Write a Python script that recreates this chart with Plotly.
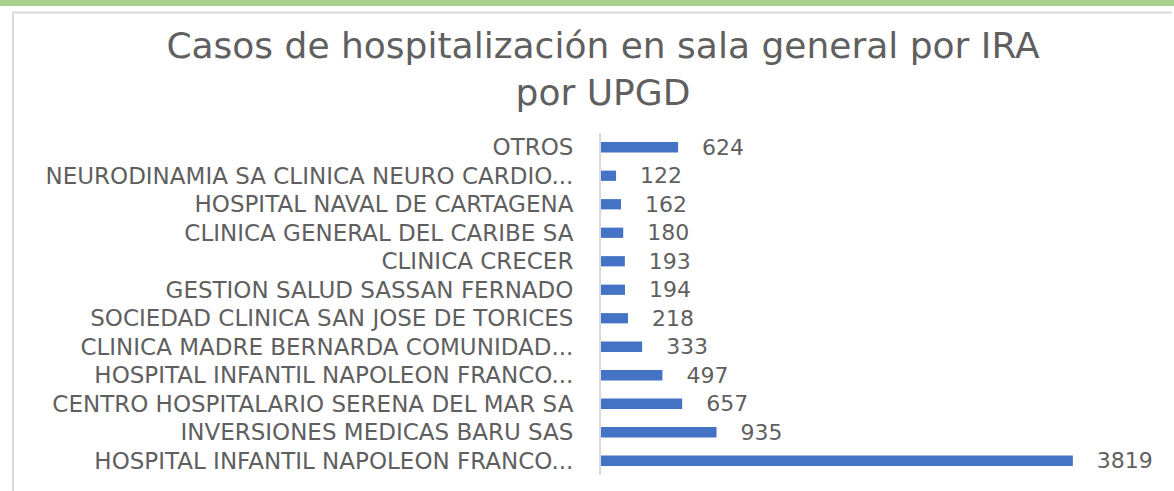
import plotly.graph_objects as go

# Data (bottom to top)
labels = [
    "HOSPITAL INFANTIL NAPOLEON FRANCO...",
    "INVERSIONES MEDICAS BARU SAS",
    "CENTRO HOSPITALARIO SERENA DEL MAR SA",
    "HOSPITAL INFANTIL NAPOLEON FRANCO...",
    "CLINICA MADRE BERNARDA COMUNIDAD...",
    "SOCIEDAD CLINICA SAN JOSE DE TORICES",
    "GESTION SALUD SASSAN FERNADO",
    "CLINICA CRECER",
    "CLINICA GENERAL DEL CARIBE SA",
    "HOSPITAL NAVAL DE CARTAGENA",
    "NEURODINAMIA SA CLINICA NEURO CARDIO...",
    "OTROS",
]
values = [3819, 935, 657, 497, 333, 218, 194, 193, 180, 162, 122, 624]
positions = list(range(len(labels)))

W, H = 1174, 491
L, R, T, B = 601, 1174 - 1157, 133, 491 - 475
pw, ph = W - L - R, H - T - B

def px(x):
    return (x - L) / pw

def py(y):
    return (H - B - y) / ph

FONT = "DejaVu Sans"

fig = go.Figure(go.Bar(
    x=values, y=positions, orientation="h",
    marker=dict(color="#4472c4", line=dict(width=0)),
    text=["\u00a0\u00a0\u00a0" + str(v) for v in values],
    textposition="outside", cliponaxis=False, constraintext="none",
    textfont=dict(family=FONT, size=22, color="#5f5f5f"),
    width=0.36,
))

fig.update_layout(
    width=W, height=H,
    margin=dict(l=L, r=R, t=T, b=B),
    paper_bgcolor="white", plot_bgcolor="white",
    showlegend=False,
    title=dict(
        text="Casos de hospitalización en sala general por IRA<br>por UPGD",
        x=603 / W, xanchor="center", xref="container",
        y=1 - 58 / H, yanchor="top", yref="container",
        font=dict(family=FONT, size=36, color="#5f5f5f"),
    ),
    xaxis=dict(range=[0, 4500], showgrid=False, zeroline=False,
               showticklabels=False, showline=False, fixedrange=True),
    yaxis=dict(range=[-0.5, 11.5], tickmode="array", tickvals=positions,
               ticktext=labels, showgrid=False, zeroline=False,
               showline=True, linecolor="#d9d9d9", linewidth=2,
               ticks="", ticklabelstandoff=21, fixedrange=True,
               tickfont=dict(family=FONT, size=23, color="#5f5f5f")),
    shapes=[
        dict(type="rect", xref="paper", yref="paper",
             x0=px(0), x1=px(W), y0=py(6), y1=py(0),
             fillcolor="#a9d18e", line=dict(width=0), layer="below"),
        dict(type="line", xref="paper", yref="paper",
             x0=px(13), x1=px(1172), y0=py(12.5), y1=py(12.5),
             line=dict(color="#d9d9d9", width=2)),
        dict(type="line", xref="paper", yref="paper",
             x0=px(13), x1=px(13), y0=py(12.5), y1=py(H),
             line=dict(color="#d9d9d9", width=2)),
    ],
)

fig.write_html("out.html", config={"displayModeBar": False},
               post_script="document.body.style.margin='0';")
